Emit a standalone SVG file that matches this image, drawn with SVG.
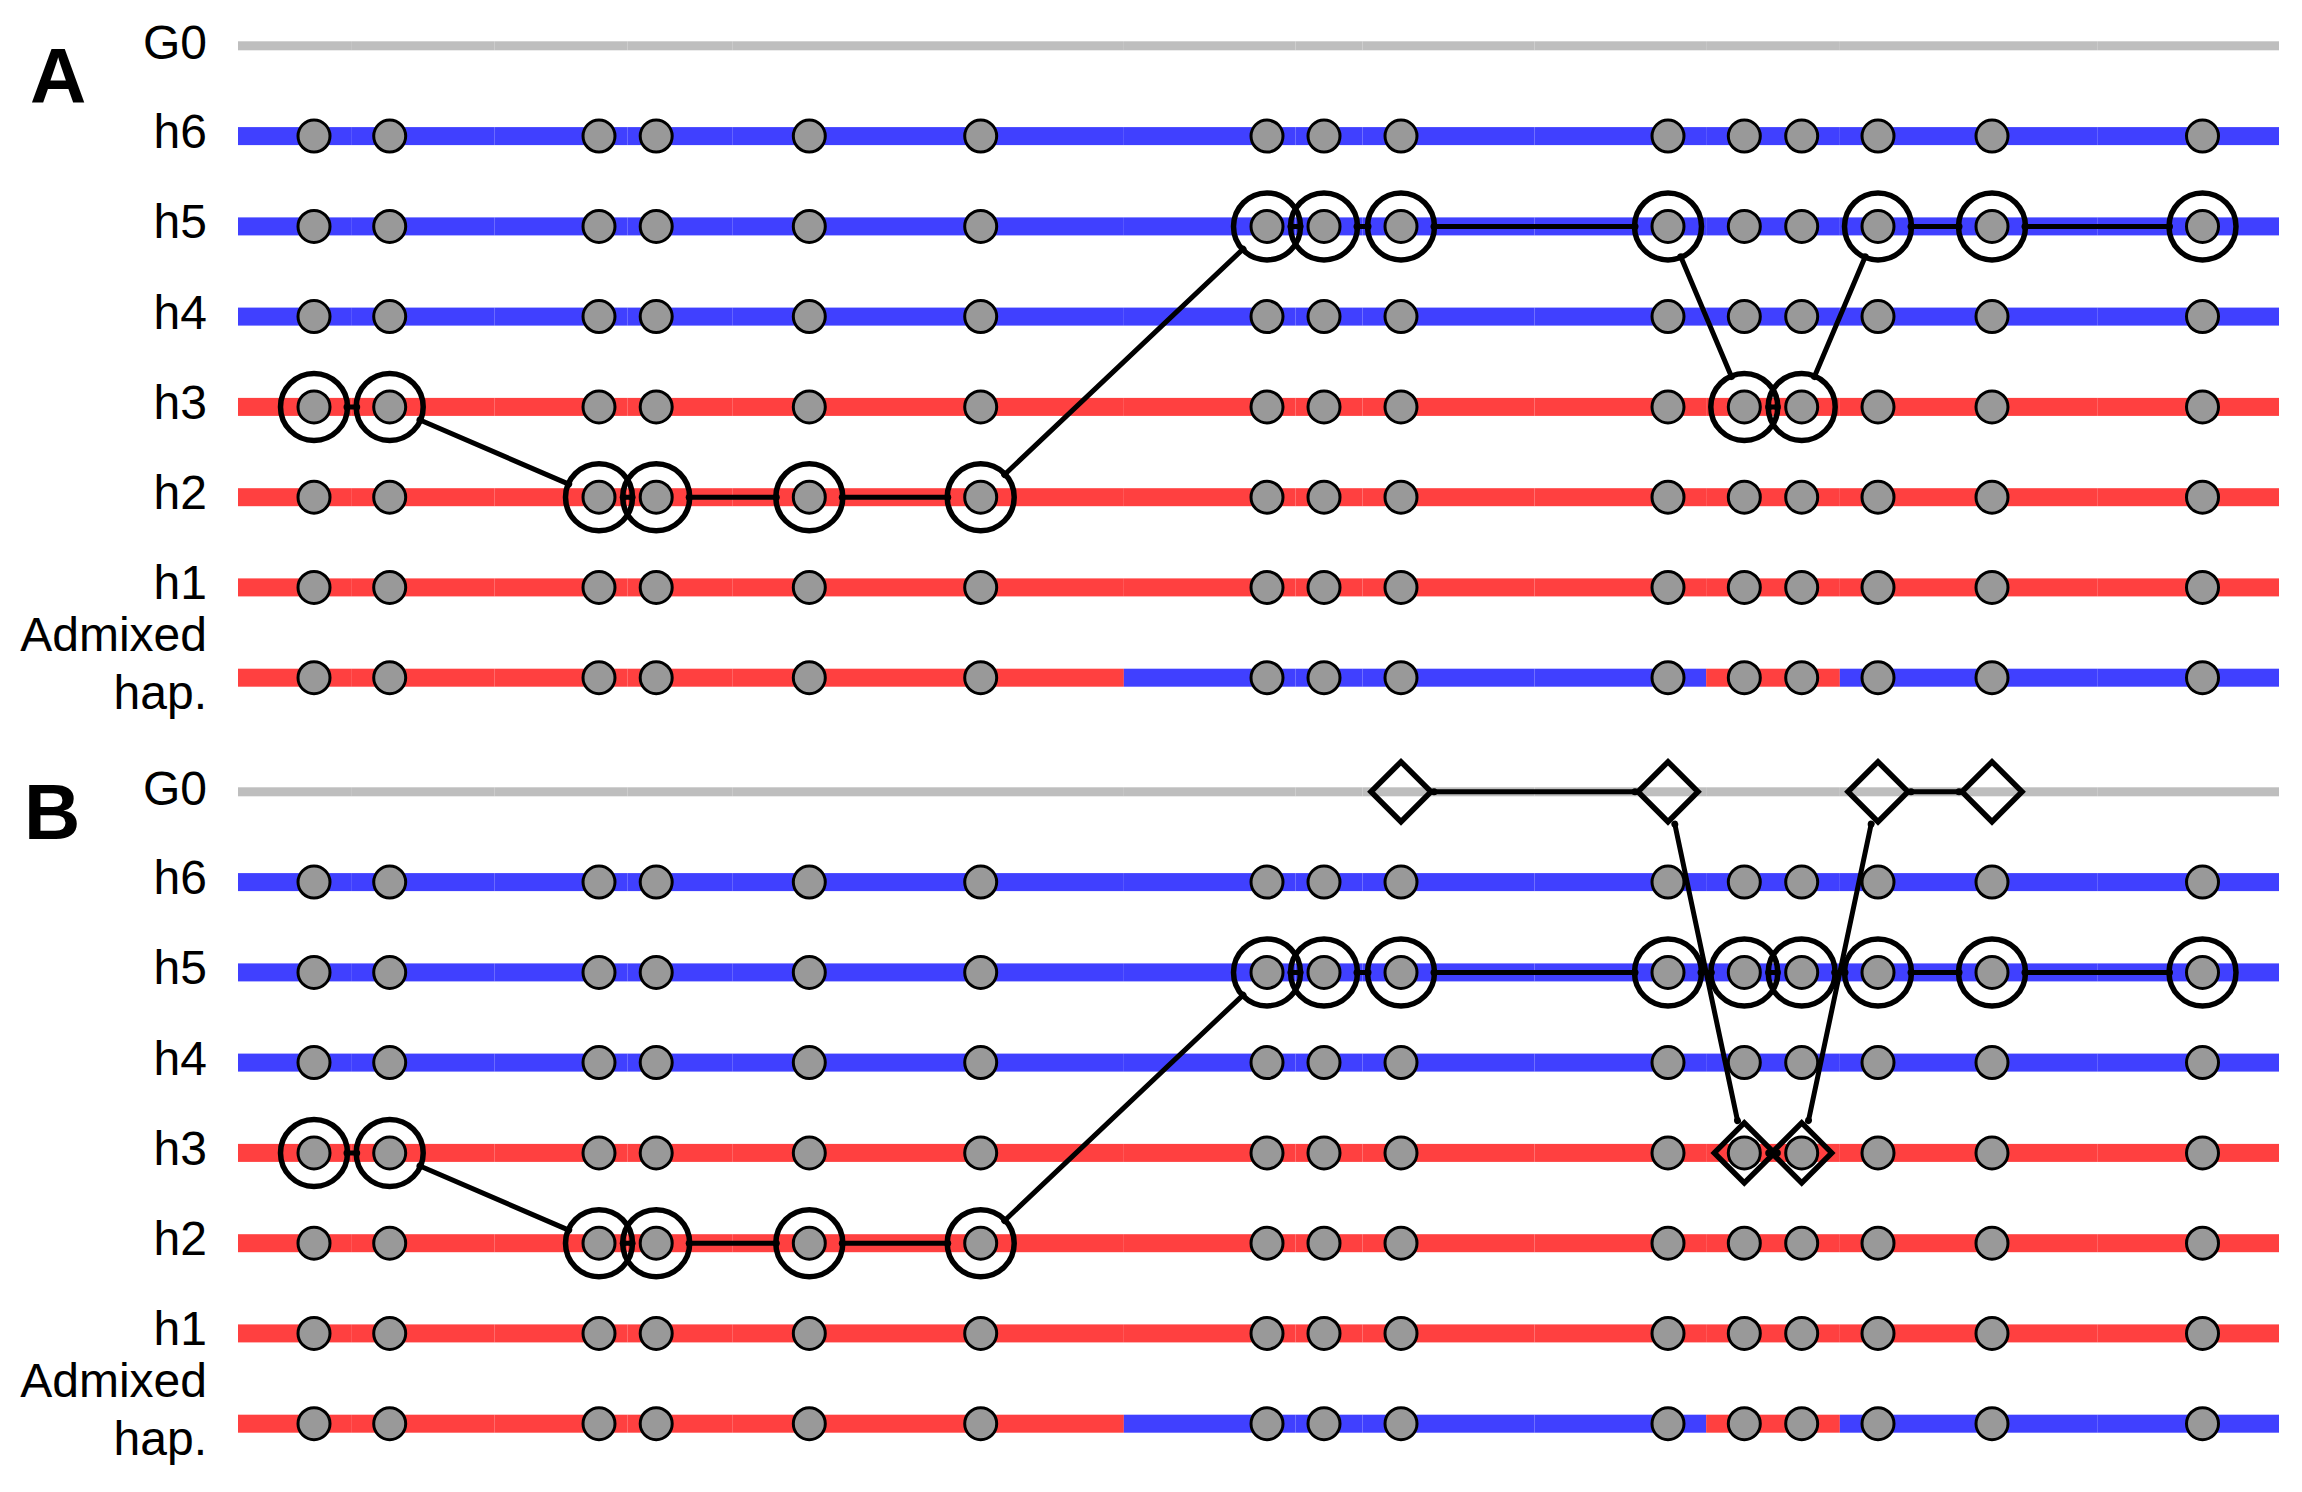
<svg xmlns="http://www.w3.org/2000/svg" xmlns:xlink="http://www.w3.org/1999/xlink" width="2302" height="1492" viewBox="0 0 2302 1492">
<style>
.lbl{font-family:"Liberation Sans",Arial,sans-serif;font-size:48px;fill:#000;text-anchor:end}
.pan{font-family:"Liberation Sans",Arial,sans-serif;font-size:78px;font-weight:bold;fill:#000}
.dot{fill:#999999;stroke:#000;stroke-width:3}
.ring{fill:none;stroke:#000;stroke-width:5.5}
.dia{fill:none;stroke:#000;stroke-width:5.5;stroke-linejoin:miter}
.con{fill:none;stroke:#000;stroke-width:5;stroke-linecap:round;marker-start:url(#cap);marker-end:url(#cap)}
.blue{fill:#4040ff}.red{fill:#ff4040}.gray{fill:#bebebe}
</style>
<defs>
<marker id="cap" viewBox="-5 -5 10 10" refX="0" refY="0" markerWidth="10" markerHeight="10" markerUnits="userSpaceOnUse" orient="auto"><circle r="3.5" fill="#000"/></marker>
<g id="seg">
<rect x="238" y="-9" width="113.85" height="18"/><rect x="351.85" y="-9" width="142.5" height="18"/><rect x="494.35" y="-9" width="133.25" height="18"/><rect x="627.6" y="-9" width="105.15" height="18"/><rect x="732.75" y="-9" width="162.25" height="18"/><rect x="895" y="-9" width="228.85" height="18"/><rect x="1123.85" y="-9" width="171.65" height="18"/><rect x="1295.5" y="-9" width="67" height="18"/><rect x="1362.5" y="-9" width="172" height="18"/><rect x="1534.5" y="-9" width="171.65" height="18"/><rect x="1706.15" y="-9" width="66.85" height="18"/><rect x="1773" y="-9" width="66.85" height="18"/><rect x="1839.85" y="-9" width="95.15" height="18"/><rect x="1935" y="-9" width="162.25" height="18"/><rect x="2097.25" y="-9" width="181.75" height="18"/>
</g>
<g id="segG">
<rect x="238" y="-4.5" width="113.85" height="9"/><rect x="351.85" y="-4.5" width="142.5" height="9"/><rect x="494.35" y="-4.5" width="133.25" height="9"/><rect x="627.6" y="-4.5" width="105.15" height="9"/><rect x="732.75" y="-4.5" width="162.25" height="9"/><rect x="895" y="-4.5" width="228.85" height="9"/><rect x="1123.85" y="-4.5" width="171.65" height="9"/><rect x="1295.5" y="-4.5" width="67" height="9"/><rect x="1362.5" y="-4.5" width="172" height="9"/><rect x="1534.5" y="-4.5" width="171.65" height="9"/><rect x="1706.15" y="-4.5" width="66.85" height="9"/><rect x="1773" y="-4.5" width="66.85" height="9"/><rect x="1839.85" y="-4.5" width="95.15" height="9"/><rect x="1935" y="-4.5" width="162.25" height="9"/><rect x="2097.25" y="-4.5" width="181.75" height="9"/>
</g>
<g id="segAdm">
<rect class="red" x="238" y="-9" width="113.85" height="18"/><rect class="red" x="351.85" y="-9" width="142.5" height="18"/><rect class="red" x="494.35" y="-9" width="133.25" height="18"/><rect class="red" x="627.6" y="-9" width="105.15" height="18"/><rect class="red" x="732.75" y="-9" width="162.25" height="18"/><rect class="red" x="895" y="-9" width="228.85" height="18"/><rect class="blue" x="1123.85" y="-9" width="171.65" height="18"/><rect class="blue" x="1295.5" y="-9" width="67" height="18"/><rect class="blue" x="1362.5" y="-9" width="172" height="18"/><rect class="blue" x="1534.5" y="-9" width="171.65" height="18"/><rect class="red" x="1706.15" y="-9" width="66.85" height="18"/><rect class="red" x="1773" y="-9" width="66.85" height="18"/><rect class="blue" x="1839.85" y="-9" width="95.15" height="18"/><rect class="blue" x="1935" y="-9" width="162.25" height="18"/><rect class="blue" x="2097.25" y="-9" width="181.75" height="18"/>
</g>
<g id="dots">
<circle class="dot" cx="314" cy="0" r="16"/><circle class="dot" cx="389.7" cy="0" r="16"/><circle class="dot" cx="599" cy="0" r="16"/><circle class="dot" cx="656.2" cy="0" r="16"/><circle class="dot" cx="809.3" cy="0" r="16"/><circle class="dot" cx="980.7" cy="0" r="16"/><circle class="dot" cx="1267" cy="0" r="16"/><circle class="dot" cx="1324" cy="0" r="16"/><circle class="dot" cx="1401" cy="0" r="16"/><circle class="dot" cx="1668" cy="0" r="16"/><circle class="dot" cx="1744.3" cy="0" r="16"/><circle class="dot" cx="1801.7" cy="0" r="16"/><circle class="dot" cx="1878" cy="0" r="16"/><circle class="dot" cx="1992" cy="0" r="16"/><circle class="dot" cx="2202.5" cy="0" r="16"/>
</g>
<path id="dm" d="M-30 0L0 -30L30 0L0 30Z"/>
</defs>
<rect width="2302" height="1492" fill="#fff"/>

<!-- Panel A -->
<text class="pan" x="30" y="103">A</text>
<g id="A-G0"><use href="#segG" y="45.8" class="gray"/><text class="lbl" x="207" y="59">G0</text></g>
<g id="A-h6"><use href="#seg" y="136.1" class="blue"/><use href="#dots" y="136.1"/><text class="lbl" x="207" y="148">h6</text></g>
<g id="A-h5"><use href="#seg" y="226.4" class="blue"/><use href="#dots" y="226.4"/><text class="lbl" x="207" y="238.4">h5</text></g>
<g id="A-h4"><use href="#seg" y="316.6" class="blue"/><use href="#dots" y="316.6"/><text class="lbl" x="207" y="328.6">h4</text></g>
<g id="A-h3"><use href="#seg" y="406.9" class="red"/><use href="#dots" y="406.9"/><text class="lbl" x="207" y="418.9">h3</text></g>
<g id="A-h2"><use href="#seg" y="497.2" class="red"/><use href="#dots" y="497.2"/><text class="lbl" x="207" y="509.2">h2</text></g>
<g id="A-h1"><use href="#seg" y="587.4" class="red"/><use href="#dots" y="587.4"/><text class="lbl" x="207" y="599.4">h1</text></g>
<g id="A-adm"><use href="#segAdm" y="677.7"/><use href="#dots" y="677.7"/><text class="lbl" x="207" y="650.7">Admixed</text><text class="lbl" x="207" y="709">hap.</text></g>
<g id="A-path">
<circle class="ring" cx="314" cy="406.9" r="33.5"/><circle class="ring" cx="389.7" cy="406.9" r="33.5"/>
<circle class="ring" cx="599" cy="497.2" r="33.5"/><circle class="ring" cx="656.2" cy="497.2" r="33.5"/><circle class="ring" cx="809.3" cy="497.2" r="33.5"/><circle class="ring" cx="980.7" cy="497.2" r="33.5"/>
<circle class="ring" cx="1267" cy="226.4" r="33.5"/><circle class="ring" cx="1324" cy="226.4" r="33.5"/><circle class="ring" cx="1401" cy="226.4" r="33.5"/><circle class="ring" cx="1668" cy="226.4" r="33.5"/>
<circle class="ring" cx="1744.3" cy="406.9" r="33.5"/><circle class="ring" cx="1801.7" cy="406.9" r="33.5"/>
<circle class="ring" cx="1878" cy="226.4" r="33.5"/><circle class="ring" cx="1992" cy="226.4" r="33.5"/><circle class="ring" cx="2202.5" cy="226.4" r="33.5"/>
</g>

<!-- Panel B -->
<text class="pan" x="24" y="839">B</text>
<g id="B-G0"><use href="#segG" y="791.8" class="gray"/><text class="lbl" x="207" y="805">G0</text></g>
<g id="B-h6"><use href="#seg" y="882.1" class="blue"/><use href="#dots" y="882.1"/><text class="lbl" x="207" y="894">h6</text></g>
<g id="B-h5"><use href="#seg" y="972.4" class="blue"/><use href="#dots" y="972.4"/><text class="lbl" x="207" y="984.4">h5</text></g>
<g id="B-h4"><use href="#seg" y="1062.6" class="blue"/><use href="#dots" y="1062.6"/><text class="lbl" x="207" y="1074.6">h4</text></g>
<g id="B-h3"><use href="#seg" y="1152.9" class="red"/><use href="#dots" y="1152.9"/><text class="lbl" x="207" y="1164.9">h3</text></g>
<g id="B-h2"><use href="#seg" y="1243.2" class="red"/><use href="#dots" y="1243.2"/><text class="lbl" x="207" y="1255.2">h2</text></g>
<g id="B-h1"><use href="#seg" y="1333.4" class="red"/><use href="#dots" y="1333.4"/><text class="lbl" x="207" y="1345.4">h1</text></g>
<g id="B-adm"><use href="#segAdm" y="1423.7"/><use href="#dots" y="1423.7"/><text class="lbl" x="207" y="1396.7">Admixed</text><text class="lbl" x="207" y="1455">hap.</text></g>
<g id="B-path">
<circle class="ring" cx="314" cy="1152.9" r="33.5"/><circle class="ring" cx="389.7" cy="1152.9" r="33.5"/>
<circle class="ring" cx="599" cy="1243.2" r="33.5"/><circle class="ring" cx="656.2" cy="1243.2" r="33.5"/><circle class="ring" cx="809.3" cy="1243.2" r="33.5"/><circle class="ring" cx="980.7" cy="1243.2" r="33.5"/>
<circle class="ring" cx="1267" cy="972.4" r="33.5"/><circle class="ring" cx="1324" cy="972.4" r="33.5"/><circle class="ring" cx="1401" cy="972.4" r="33.5"/><circle class="ring" cx="1668" cy="972.4" r="33.5"/><circle class="ring" cx="1744.3" cy="972.4" r="33.5"/><circle class="ring" cx="1801.7" cy="972.4" r="33.5"/><circle class="ring" cx="1878" cy="972.4" r="33.5"/><circle class="ring" cx="1992" cy="972.4" r="33.5"/><circle class="ring" cx="2202.5" cy="972.4" r="33.5"/>
</g>
<g id="B-G0path">
<use href="#dm" class="dia" x="1401" y="791.8"/><use href="#dm" class="dia" x="1668" y="791.8"/><use href="#dm" class="dia" x="1878" y="791.8"/><use href="#dm" class="dia" x="1992" y="791.8"/>
<use href="#dm" class="dia" x="1744.3" y="1152.9"/><use href="#dm" class="dia" x="1801.7" y="1152.9"/>
</g>

<g id="connectors">
<line class="con" x1="347" y1="406.9" x2="356.7" y2="406.9"/>
<line class="con" x1="420" y1="420" x2="568.7" y2="484.1"/>
<line class="con" x1="632" y1="497.2" x2="623.2" y2="497.2"/>
<line class="con" x1="689.2" y1="497.2" x2="776.3" y2="497.2"/>
<line class="con" x1="842.3" y1="497.2" x2="947.7" y2="497.2"/>
<line class="con" x1="1004.7" y1="474.5" x2="1243" y2="249.1"/>
<line class="con" x1="1300" y1="226.4" x2="1291" y2="226.4"/>
<line class="con" x1="1357" y1="226.4" x2="1368" y2="226.4"/>
<line class="con" x1="1434" y1="226.4" x2="1635" y2="226.4"/>
<line class="con" x1="1680.8" y1="256.8" x2="1731.4" y2="376.5"/>
<line class="con" x1="1777.3" y1="406.9" x2="1768.7" y2="406.9"/>
<line class="con" x1="1814.5" y1="376.5" x2="1865.2" y2="256.8"/>
<line class="con" x1="1911" y1="226.4" x2="1959" y2="226.4"/>
<line class="con" x1="2025" y1="226.4" x2="2169.5" y2="226.4"/>

<line class="con" x1="347" y1="1152.9" x2="356.7" y2="1152.9"/>
<line class="con" x1="420" y1="1166" x2="568.7" y2="1230.1"/>
<line class="con" x1="632" y1="1243.2" x2="623.2" y2="1243.2"/>
<line class="con" x1="689.2" y1="1243.2" x2="776.3" y2="1243.2"/>
<line class="con" x1="842.3" y1="1243.2" x2="947.7" y2="1243.2"/>
<line class="con" x1="1004.7" y1="1220.5" x2="1243" y2="995.1"/>
<line class="con" x1="1300" y1="972.4" x2="1291" y2="972.4"/>
<line class="con" x1="1357" y1="972.4" x2="1368" y2="972.4"/>
<line class="con" x1="1434" y1="972.4" x2="1635" y2="972.4"/>
<line class="con" x1="1701" y1="972.4" x2="1711.3" y2="972.4"/>
<line class="con" x1="1777.3" y1="972.4" x2="1768.7" y2="972.4"/>
<line class="con" x1="1834.7" y1="972.4" x2="1845" y2="972.4"/>
<line class="con" x1="1911" y1="972.4" x2="1959" y2="972.4"/>
<line class="con" x1="2025" y1="972.4" x2="2169.5" y2="972.4"/>

<line class="con" x1="1434" y1="791.8" x2="1635" y2="791.8"/>
<line class="con" x1="1674.8" y1="824.1" x2="1737.5" y2="1120.6"/>
<line class="con" x1="1777.3" y1="1152.9" x2="1768.7" y2="1152.9"/>
<line class="con" x1="1808.5" y1="1120.6" x2="1871.2" y2="824.1"/>
<line class="con" x1="1911" y1="791.8" x2="1959" y2="791.8"/>
</g>
</svg>
